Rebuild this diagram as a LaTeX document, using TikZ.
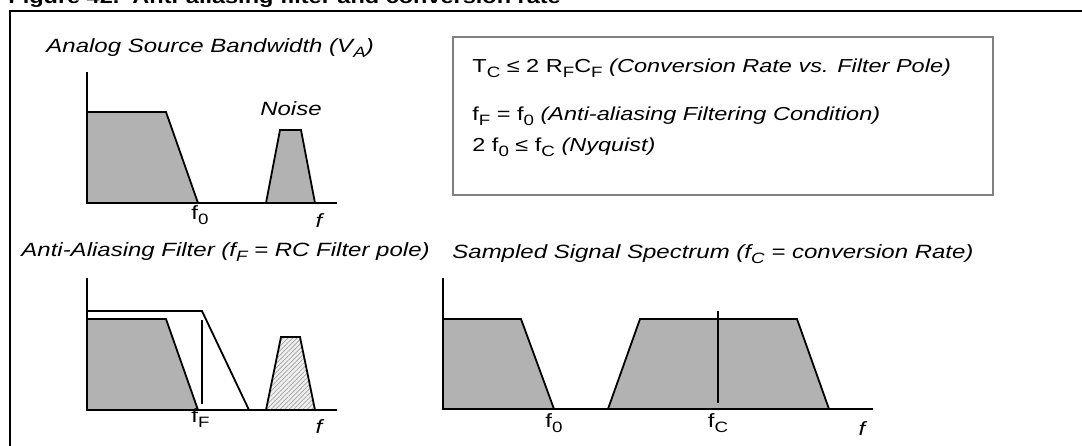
\documentclass[tikz,border=0pt]{standalone}
\usepackage{fontspec}
\setmainfont[FakeStretch=1.25]{Liberation Sans}
\usetikzlibrary{patterns.meta}
\definecolor{sigfill}{gray}{0.7}
\definecolor{boxgray}{gray}{0.5}
\newcommand{\subsc}[1]{\raisebox{-2.5pt}{\fontsize{7.5}{8}\selectfont #1}}
\begin{document}
\begin{tikzpicture}[x=0.5pt,y=-0.5pt,font=\fontsize{9.6}{11.5}\selectfont]

    % Stili globali: assi, spettri, etichette
    \tikzset{axis/.style={line width=1.3pt},
             spectrum/.style={draw,line width=0.9pt,fill=sigfill},
             lbl/.style={inner sep=0pt}}

    \useasboundingbox (0,0) rectangle (1082,445);
    \clip (0,0) rectangle (1082,445);

    % Titolo della figura (tagliato in alto) e cornice
    \node[lbl,anchor=base west,font=\fontsize{9.4}{11}\selectfont\bfseries] (figtitle) at (8,3) {Figure 42.\ \ Anti-aliasing filter and conversion rate};
    \draw[line width=1pt] (10,11) rectangle (1100,460);

    % Grafico 1: banda della sorgente analogica
    \node[lbl,anchor=base west,font=\fontsize{9.6}{11.5}\selectfont\itshape] (srctitle) at (46,52) {Analog Source Bandwidth (V\subsc{A})};
    \draw[spectrum] (87,203) -- (87,112) -- (166,112) -- (198,203) -- cycle;
    \draw[spectrum] (266,203) -- (280,130) -- (301,130) -- (315,203) -- cycle;
    \draw[axis] (87,72) -- (87,203) -- (337,203);
    \node[lbl,anchor=base] (noise) at (291,115) {\itshape Noise};
    \node[lbl,anchor=base west] (fzeroa) at (191,219) {f\subsc{0}};
    \node[lbl,anchor=base] (fa) at (319,227) {\itshape f};

    % Riquadro con le condizioni
    \draw[boxgray,line width=1pt] (453,37) rectangle (993,195);
    \begin{scope}[font=\fontsize{9.4}{11}\selectfont]
    \node[lbl,anchor=base west] (eqrate) at (472,72) {T\subsc{C} ≤ 2 R\subsc{F}C\subsc{F} \textit{(Conversion Rate vs. Filter Pole)}};
    \node[lbl,anchor=base west] (eqfilt) at (472,120) {f\subsc{F} = f\subsc{0} \textit{(Anti-aliasing Filtering Condition)}};
    \node[lbl,anchor=base west] (eqnyq) at (472,151) {2 f\subsc{0} ≤ f\subsc{C} \textit{(Nyquist)}};
    \end{scope}

    % Grafico 2: filtro anti-aliasing
    \node[lbl,anchor=base west,font=\fontsize{9.6}{11.5}\selectfont\itshape] (filttitle) at (21,256) {Anti-Aliasing Filter (f\subsc{F} = RC Filter pole)};
    \draw[line width=0.9pt] (87,311) -- (202,311) -- (249,410);
    \draw[spectrum] (87,410) -- (87,319) -- (166,319) -- (198,410) -- cycle;
    \draw[line width=0.9pt] (202,320) -- (202,404);
    \fill[gray!12] (266,410) -- (281,337) -- (300,337) -- (315,410) -- cycle;
    \draw[line width=0.9pt,pattern={Lines[angle=45,distance=1.6pt,line width=0.35pt]},pattern color=gray!75]
        (266,410) -- (281,337) -- (300,337) -- (315,410) -- cycle;
    \draw[axis] (87,278) -- (87,410) -- (337,410);
    \node[lbl,anchor=base west] (fF) at (191,422) {f\subsc{F}};
    \node[lbl,anchor=base] (fb) at (319,433) {\itshape f};

    % Grafico 3: spettro del segnale campionato
    \node[lbl,anchor=base west,font=\fontsize{9.6}{11.5}\selectfont\itshape] (samptitle) at (452,258) {Sampled Signal Spectrum (f\subsc{C} = conversion Rate)};
    \draw[spectrum] (443,409) -- (443,319) -- (521,319) -- (554,409) -- cycle;
    \draw[spectrum] (608,409) -- (640,319) -- (797,319) -- (829,409) -- cycle;
    \draw[line width=0.9pt] (718,311) -- (718,403);
    \draw[axis] (443,278) -- (443,409) -- (873,409);
    \node[lbl,anchor=base] (fzerob) at (554,427) {f\subsc{0}};
    \node[lbl,anchor=base] (fC) at (718,427) {f\subsc{C}};
    \node[lbl,anchor=base] (fc) at (862,435) {\itshape f};

\end{tikzpicture}
\end{document}
